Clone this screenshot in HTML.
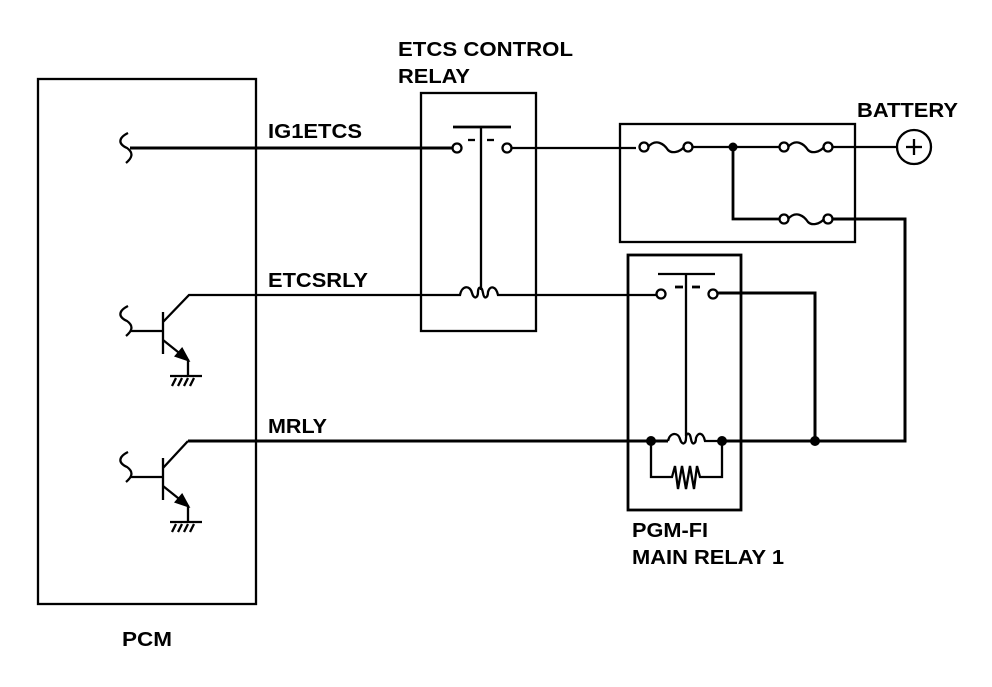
<!DOCTYPE html>
<html><head><style>
body{margin:0;background:#fff;}
svg text{font-family:"Liberation Sans",Arial,sans-serif;font-weight:bold;font-size:20px;fill:#000;}
</style></head><body>
<svg width="992" height="682" viewBox="0 0 992 682" xmlns="http://www.w3.org/2000/svg">
<g fill="none" stroke="#000" stroke-width="2.3">
<rect x="38" y="79" width="218" height="525"/>
<rect x="421" y="93" width="115" height="238"/>
<rect x="620" y="124" width="235" height="118"/>
<rect x="628" y="255" width="113" height="255" stroke-width="2.8"/>
<path d="M128,133 C118,138 118,144 127,148 C134,153 132,158 126,163"/>
<path d="M128,306 C118,311 118,317 127,321 C134,326 132,331 126,336"/>
<path d="M128,452 C118,457 118,463 127,467 C134,472 132,477 126,482"/>
<line x1="130" y1="148" x2="453" y2="148" stroke-width="3"/>
<circle cx="457" cy="148" r="4.5"/>
<circle cx="507" cy="148" r="4.5"/>
<line x1="453" y1="127" x2="511" y2="127" stroke-width="2.8"/>
<line x1="481" y1="127" x2="481" y2="290"/>
<line x1="468" y1="140" x2="475" y2="140"/><line x1="487" y1="140" x2="494" y2="140"/>
<line x1="512" y1="148" x2="636" y2="148"/>
<path d="M130,331 H163 M163,312 V354 M163,322 L189,295 H460 C462,285 470,285 472,293 C474,300 478,298 478,292 C478,286 482,286 483,293 C484,300 488,298 488,292 C490,285 496,286 498,295 H656" />
<path d="M163,340 L188,360 V376"/>
<polygon points="188,360 176,356 182,349" fill="#000"/>
<line x1="170" y1="376" x2="202" y2="376"/>
<path d="M172,386 L176,378 M178,386 L182,378 M184,386 L188,378 M190,386 L194,378"/>
<path d="M130,477 H163 M163,458 V500 M163,468 L188,441"/>
<path d="M163,486 L188,506 V522"/>
<polygon points="188,506 176,502 182,495" fill="#000"/>
<line x1="170" y1="522" x2="202" y2="522"/>
<path d="M172,532 L176,524 M178,532 L182,524 M184,532 L188,524 M190,532 L194,524"/>
<line x1="188" y1="441" x2="668" y2="441" stroke-width="3"/>
<circle cx="644" cy="147" r="4.5"/>
<path d="M648,147 C656,138 664,144 668,150 C672,154 680,152 684,147"/>
<circle cx="688" cy="147" r="4.5"/>
<line x1="692" y1="147" x2="780" y2="147"/>
<circle cx="784" cy="147" r="4.5"/>
<path d="M788,147 C796,138 804,144 808,150 C812,154 820,152 824,147"/>
<circle cx="828" cy="147" r="4.5"/>
<line x1="832" y1="147" x2="897" y2="147"/>
<circle cx="914" cy="147" r="17"/>
<line x1="906" y1="147" x2="922" y2="147"/><line x1="914" y1="139" x2="914" y2="155"/>
<path d="M733,147 V219 H780" stroke-width="2.8"/>
<circle cx="784" cy="219" r="4.5"/>
<path d="M788,219 C796,210 804,216 808,222 C812,226 820,224 824,219"/>
<circle cx="828" cy="219" r="4.5"/>
<path d="M832,219 H905 V441 H722" stroke-width="3"/>
<line x1="658" y1="274" x2="715" y2="274"/>
<line x1="686" y1="274" x2="686" y2="436"/>
<line x1="675" y1="287" x2="683" y2="287" stroke-width="2.8"/><line x1="692" y1="287" x2="700" y2="287" stroke-width="2.8"/>
<circle cx="661" cy="294" r="4.5"/>
<circle cx="713" cy="294" r="4.5"/>
<path d="M718,293 H815 V441" stroke-width="3"/>
<path d="M668,441 C670,432 678,432 680,439 C682,446 686,444 686,438 C686,432 690,432 691,439 C692,446 696,444 696,438 C698,432 703,432 705,441 H722"/>
<path d="M651,441 V477 H672 L675,466 L678,489 L682,466 L686,489 L690,466 L694,489 L697,466 L700,477 H722 V441"/>
</g>
<g fill="#000">
<circle cx="733" cy="147" r="4.5"/>
<circle cx="651" cy="441" r="5"/>
<circle cx="722" cy="441" r="5"/>
<circle cx="815" cy="441" r="5"/>
</g>
<text x="398" y="56" textLength="175" lengthAdjust="spacingAndGlyphs">ETCS CONTROL</text>
<text x="398" y="83" textLength="72" lengthAdjust="spacingAndGlyphs">RELAY</text>
<text x="268" y="138" textLength="94" lengthAdjust="spacingAndGlyphs">IG1ETCS</text>
<text x="268" y="287" textLength="100" lengthAdjust="spacingAndGlyphs">ETCSRLY</text>
<text x="268" y="433" textLength="59" lengthAdjust="spacingAndGlyphs">MRLY</text>
<text x="857" y="117" textLength="101" lengthAdjust="spacingAndGlyphs">BATTERY</text>
<text x="632" y="537" textLength="76" lengthAdjust="spacingAndGlyphs">PGM-FI</text>
<text x="632" y="564" textLength="152" lengthAdjust="spacingAndGlyphs">MAIN RELAY 1</text>
<text x="122" y="646" textLength="50" lengthAdjust="spacingAndGlyphs">PCM</text>
</svg>
</body></html>
